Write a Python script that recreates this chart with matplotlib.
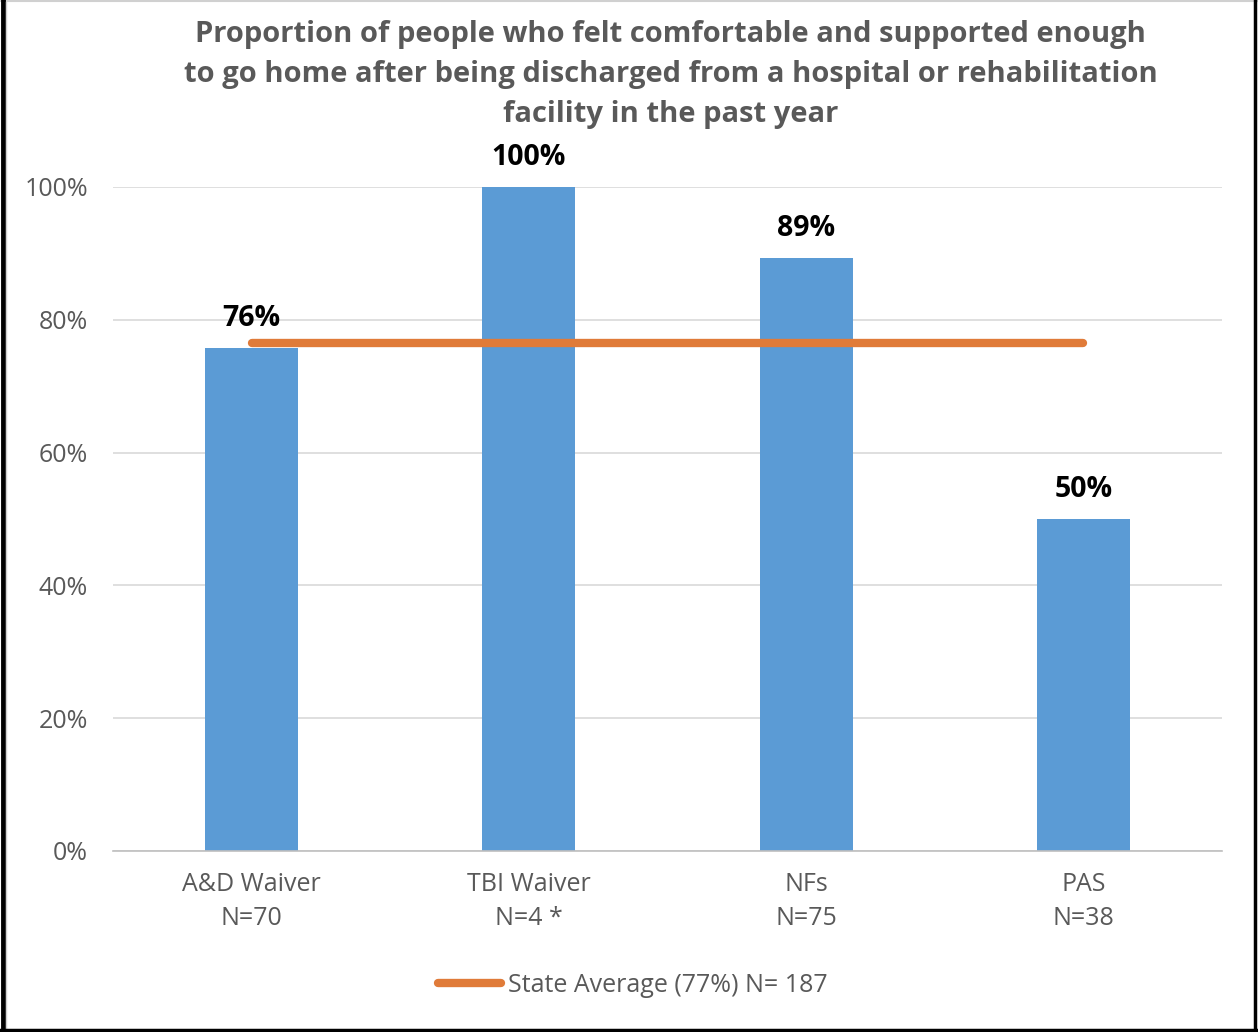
import matplotlib
matplotlib.use("Agg")
import matplotlib.pyplot as plt
from matplotlib.lines import Line2D

categories = ["A&D Waiver\nN=70", "TBI Waiver\nN=4 *", "NFs\nN=75", "PAS\nN=38"]
values = [75.7, 100, 89.3, 50]
value_labels = ["76%", "100%", "89%", "50%"]
state_average = 76.5
state_label = "State Average (77%) N= 187"
yticks = [0, 20, 40, 60, 80, 100]
ytick_labels = ["0%", "20%", "40%", "60%", "80%", "100%"]
title = ("Proportion of people who felt comfortable and supported enough\n"
         "to go home after being discharged from a hospital or rehabilitation\n"
         "facility in the past year")

plt.rcParams['font.family'] = ['Open Sans', 'DejaVu Sans']

W, H = 1258, 1032
fig = plt.figure(figsize=(W/100, H/100), dpi=100)
ax = fig.add_axes([113/W, 1-851/H, (1222-113)/W, (851-187)/H])

x = list(range(len(categories)))
ax.bar(x, values, width=0.336, color="#5B9BD5", zorder=2)
ax.plot([x[0], x[-1]], [state_average]*2, color="#E07B39", lw=6,
        solid_capstyle="round", zorder=3)

for xi, v, lab in zip(x, values, value_labels):
    ax.annotate(lab, (xi, v), xytext=(0, 11), textcoords="offset points",
                ha="center", va="bottom", fontsize=20.5, fontweight="bold",
                color="black", zorder=4)

ax.set_xlim(-0.5, len(categories)-0.5)
ax.set_ylim(0, 100)
ax.set_yticks(yticks)
ax.set_yticklabels(ytick_labels)
ax.set_xticks(x)
ax.set_xticklabels(categories, linespacing=1.5)
ax.tick_params(axis="y", length=0, pad=18, labelsize=18, labelcolor="#595959")
ax.tick_params(axis="x", length=0, pad=15, labelsize=18, labelcolor="#595959")
ax.grid(axis="y", color="#D9D9D9", lw=1.2, zorder=0)
ax.set_axisbelow(True)
for s in ["top", "right", "left"]:
    ax.spines[s].set_visible(False)
ax.spines["bottom"].set_color("#BFBFBF")
ax.spines["bottom"].set_linewidth(1.2)

fig.text(0.533, 1-20/H, title, ha="center", va="top", fontsize=21,
         fontweight="bold", color="#595959", linespacing=1.5)

handle = Line2D([0], [0], color="#E07B39", lw=6, solid_capstyle="round")
fig.legend([handle], [state_label], loc="center", bbox_to_anchor=(633/W, 1-985/H),
           frameon=False, fontsize=18, labelcolor="#595959", handlelength=2.5,
           handletextpad=0.3)

# outer border
tf = fig.transFigure
fig.add_artist(Line2D([0, 1], [1-1/H, 1-1/H], transform=tf, color="#D0D0D0", lw=1.5))
fig.add_artist(Line2D([3/W, 3/W], [0, 1], transform=tf, color="black", lw=3.5))
fig.add_artist(Line2D([6.5/W, 6.5/W], [0, 1-2/H], transform=tf, color="#D0D0D0", lw=1))
fig.add_artist(Line2D([1-3/W, 1-3/W], [0, 1], transform=tf, color="black", lw=2.5))
fig.add_artist(Line2D([0, 1], [2.5/H, 2.5/H], transform=tf, color="black", lw=2.5))

fig.savefig("out.png", dpi=100, facecolor="white")
